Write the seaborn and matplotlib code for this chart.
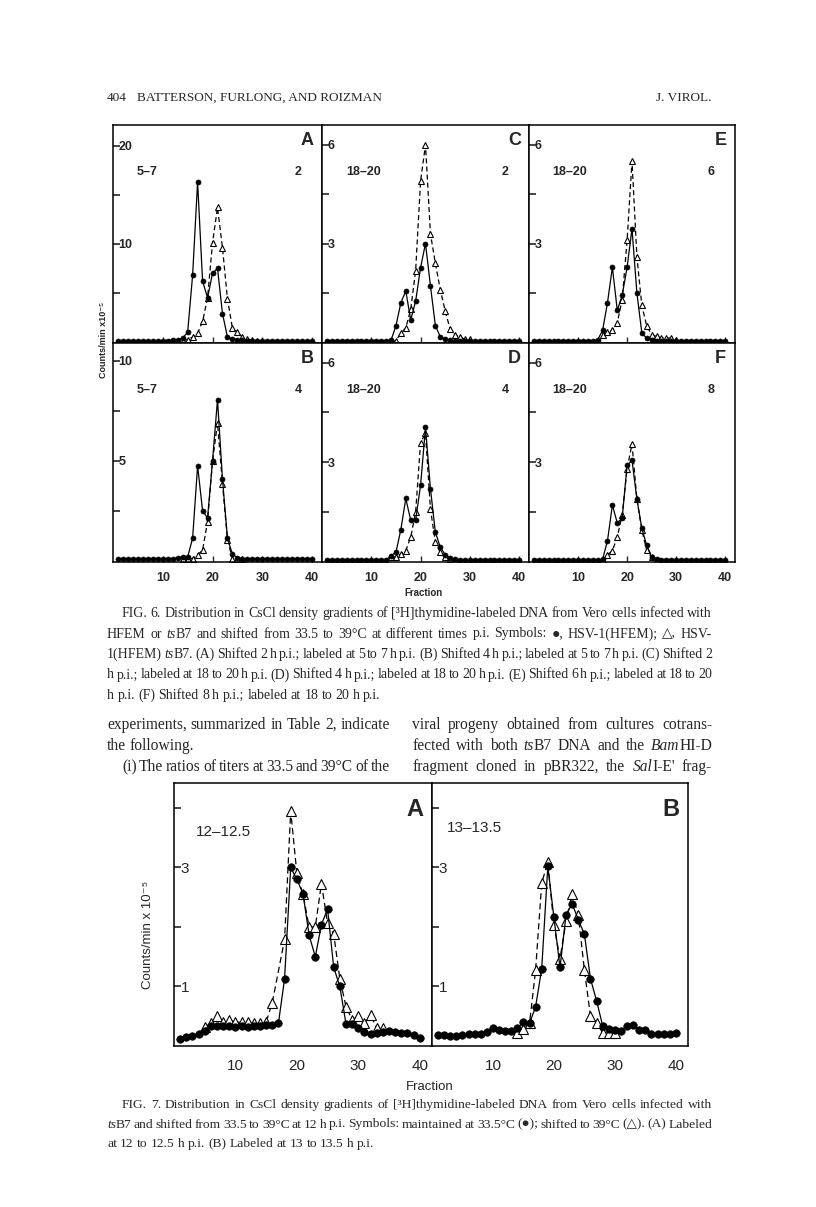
import matplotlib
matplotlib.use("Agg")
import matplotlib.pyplot as plt
import seaborn as sns

sns.set_style("white")
SANS = ['Liberation Sans', 'DejaVu Sans']
SERIF = ['Liberation Serif', 'DejaVu Serif', 'DejaVu Sans']
plt.rcParams['font.family'] = SANS

# ---------------- data: FIG. 6 (counts/min x 10^-5 per fraction) ----------------
fractions = list(range(1, 41))

a_hfem = [0.1, 0.1, 0.1, 0.1, 0.1, 0.1, 0.1, 0.1, 0.1, 0.15, 0.15, 0.2, 0.25, 0.4, 1.0,
          6.8, 16.3, 6.2, 4.5, 7.0, 7.5, 2.9, 0.5, 0.3, 0.25, 0.2, 0.15, 0.15, 0.1, 0.1,
          0.1, 0.1, 0.1, 0.1, 0.1, 0.1, 0.1, 0.1, 0.1, 0.1]
a_ts_frac = list(range(14, 31))
a_ts = [0.15, 0.25, 0.5, 0.9, 2.1, 4.5, 10.1, 13.7, 9.6, 4.4, 1.4, 1.0, 0.5, 0.3, 0.2, 0.15, 0.1]

b_hfem = [0.1, 0.1, 0.1, 0.1, 0.1, 0.1, 0.1, 0.1, 0.1, 0.1, 0.1, 0.12, 0.15, 0.2, 0.2,
          1.14, 4.76, 2.52, 2.15, 5.0, 8.07, 4.1, 1.14, 0.34, 0.17, 0.12, 0.1, 0.1, 0.1, 0.1,
          0.1, 0.1, 0.1, 0.1, 0.1, 0.1, 0.1, 0.1, 0.1, 0.08]
b_ts_frac = list(range(14, 27))
b_ts = [0.08, 0.08, 0.12, 0.3, 0.54, 1.97, 5.0, 6.9, 3.87, 1.06, 0.12, 0.08, 0.08]

c_hfem = [0.05, 0.05, 0.05, 0.05, 0.05, 0.05, 0.05, 0.05, 0.05, 0.05, 0.05, 0.05, 0.05, 0.06, 0.5,
          1.2, 1.56, 0.68, 1.25, 2.27, 3.0, 1.72, 0.51, 0.17, 0.1, 0.06, 0.05, 0.05, 0.05, 0.05,
          0.05, 0.05, 0.05, 0.05, 0.05, 0.05, 0.05, 0.05, 0.05, 0.05]
c_ts_frac = list(range(14, 31))
c_ts = [0.03, 0.05, 0.28, 0.44, 1.0, 2.18, 4.9, 6.0, 3.3, 2.4, 1.6, 0.95, 0.4, 0.23, 0.15, 0.1, 0.1]

d_hfem = [0.05, 0.05, 0.05, 0.05, 0.05, 0.05, 0.05, 0.05, 0.05, 0.05, 0.05, 0.05, 0.04, 0.17, 0.27,
          0.96, 1.9, 1.24, 1.24, 2.3, 4.05, 2.2, 0.88, 0.43, 0.2, 0.1, 0.07, 0.05, 0.05, 0.05,
          0.05, 0.05, 0.05, 0.05, 0.05, 0.05, 0.05, 0.05, 0.05, 0.05]
d_ts_frac = list(range(14, 28))
d_ts = [0.12, 0.14, 0.22, 0.32, 0.73, 1.49, 3.59, 3.87, 1.59, 0.58, 0.27, 0.12, 0.07, 0.05]

e_hfem = [0.05, 0.05, 0.05, 0.05, 0.05, 0.05, 0.05, 0.05, 0.05, 0.05, 0.05, 0.05, 0.05, 0.08, 0.36,
          1.2, 2.28, 0.97, 1.43, 2.28, 3.45, 1.5, 0.29, 0.12, 0.08, 0.05, 0.05, 0.05, 0.05, 0.05,
          0.05, 0.05, 0.05, 0.05, 0.05, 0.05, 0.05, 0.05, 0.05, 0.05]
e_ts_frac = list(range(15, 31))
e_ts = [0.23, 0.3, 0.36, 0.6, 1.3, 3.1, 5.5, 2.6, 1.12, 0.5, 0.23, 0.18, 0.13, 0.13, 0.13, 0.08]

f_hfem = [0.04, 0.04, 0.04, 0.04, 0.04, 0.04, 0.04, 0.04, 0.04, 0.04, 0.04, 0.04, 0.04, 0.04, 0.06,
          0.62, 1.7, 1.16, 1.31, 2.9, 3.06, 1.88, 1.0, 0.48, 0.12, 0.06, 0.04, 0.04, 0.04, 0.04,
          0.04, 0.04, 0.04, 0.04, 0.04, 0.04, 0.04, 0.04, 0.04, 0.04]
f_ts_frac = list(range(15, 27))
f_ts = [0.04, 0.2, 0.32, 0.73, 1.41, 2.8, 3.55, 1.88, 0.95, 0.33, 0.12, 0.05]

# ---------------- data: FIG. 7 ----------------
g_33 = [0.12, 0.15, 0.17, 0.2, 0.26, 0.34, 0.33, 0.33, 0.33, 0.32, 0.33, 0.32, 0.33, 0.34, 0.35,
        0.35, 0.38, 1.13, 3.0, 2.8, 2.56, 1.86, 1.5, 2.04, 2.3, 1.32, 1.0, 0.37, 0.37, 0.3,
        0.24, 0.21, 0.22, 0.24, 0.26, 0.24, 0.22, 0.22, 0.18, 0.14]
g_39_frac = [5, 6, 7, 8, 9, 10, 11, 12, 13, 14, 15, 16, 18, 19, 20, 21, 22, 23, 24, 25, 26,
             27, 28, 29, 30, 31, 32, 33, 34]
g_39 = [0.32, 0.38, 0.5, 0.4, 0.44, 0.4, 0.4, 0.4, 0.38, 0.38, 0.4, 0.73, 1.79, 3.95, 2.9,
        2.55, 2.0, 2.0, 2.73, 2.06, 1.88, 1.13, 0.66, 0.44, 0.5, 0.38, 0.52, 0.3, 0.3]

h_33 = [0.18, 0.18, 0.17, 0.17, 0.18, 0.2, 0.21, 0.2, 0.24, 0.3, 0.27, 0.26, 0.25, 0.3, 0.41,
        0.38, 0.66, 1.3, 3.02, 2.16, 1.32, 2.21, 2.39, 2.12, 1.88, 1.13, 0.76, 0.34, 0.28, 0.27,
        0.26, 0.34, 0.35, 0.27, 0.27, 0.2, 0.2, 0.2, 0.2, 0.22]
h_39_frac = list(range(14, 31))
h_39 = [0.22, 0.28, 0.38, 1.28, 2.74, 3.09, 2.03, 1.47, 2.1, 2.56, 2.2, 1.28, 0.5, 0.39, 0.22, 0.22, 0.22]

W, H = 816, 1207
fig = plt.figure(figsize=(W / 100, H / 100), dpi=100)
fig.patch.set_facecolor('white')


def px_axes(x0, y0, x1, y1):
    return fig.add_axes([x0 / W, 1 - y1 / H, (x1 - x0) / W, (y1 - y0) / H])


def T(x, y, s, **kw):
    return fig.text(x / W, 1 - y / H, s, **kw)


def draw(ax, circ, tri_x, tri, ms_c, ms_t, lw, dash):
    sns.lineplot(x=tri_x, y=tri, ax=ax, color='black', linewidth=lw, linestyle=(0, dash),
                 marker='^', markersize=ms_t, markerfacecolor='white', markeredgecolor='black',
                 markeredgewidth=0.8)
    sns.lineplot(x=fractions, y=circ, ax=ax, color='black', linewidth=lw,
                 marker='o', markersize=ms_c, markeredgecolor='black', markeredgewidth=0.5)


def style(ax, ylim, yticks, ylabels, xlabels, fs, bold, spw, ypad, xpad, xlim=(0, 42)):
    ax.set_xlim(*xlim)
    ax.set_ylim(*ylim)
    for s in ax.spines.values():
        s.set_visible(True)
        s.set_linewidth(spw)
        s.set_color('black')
    ax.set_yticks(yticks)
    ax.set_yticklabels(ylabels)
    ax.set_xticks([10, 20, 30, 40])
    ax.set_xticklabels(['10', '20', '30', '40'] if xlabels else [])
    ax.tick_params(axis='y', direction='in', length=5, width=1.2, pad=ypad, left=True,
                   labelsize=fs)
    ax.tick_params(axis='x', direction='in', length=4 if bold else 0, width=1.0, pad=xpad,
                   bottom=True, labelsize=fs)
    for t in ax.get_yticklabels():
        t.set_horizontalalignment('left')
        t.set_fontweight('bold' if bold else 'normal')
    for t in ax.get_xticklabels():
        t.set_fontweight('bold' if bold else 'normal')
    ax.set_xlabel('')
    ax.set_ylabel('')
    ax.grid(False)


# ---------------- FIG. 6 ----------------
cols = [(113, 322), (322, 529), (529, 735)]
rows = [(125, 343), (343, 562)]
panels6 = [
    ('A', '5\u20137', '2', a_hfem, a_ts_frac, a_ts, (-0.1, 22.1), [5, 10, 15, 20], ['', '10', '', '20'], 0, 0),
    ('B', '5\u20137', '4', b_hfem, b_ts_frac, b_ts, (-0.05, 10.9), [2.5, 5, 7.5, 10], ['', '5', '', '10'], 0, 1),
    ('C', '18\u201320', '2', c_hfem, c_ts_frac, c_ts, (-0.02, 6.6), [1.5, 3, 4.5, 6], ['', '3', '', '6'], 1, 0),
    ('D', '18\u201320', '4', d_hfem, d_ts_frac, d_ts, (-0.02, 6.6), [1.5, 3, 4.5, 6], ['', '3', '', '6'], 1, 1),
    ('E', '18\u201320', '6', e_hfem, e_ts_frac, e_ts, (-0.02, 6.6), [1.5, 3, 4.5, 6], ['', '3', '', '6'], 2, 0),
    ('F', '18\u201320', '8', f_hfem, f_ts_frac, f_ts, (-0.02, 6.6), [1.5, 3, 4.5, 6], ['', '3', '', '6'], 2, 1),
]
for letter, lab, shift, circ, tx, ty, ylim, yt, yl, ci, ri in panels6:
    x0, x1 = cols[ci]
    y0, y1 = rows[ri]
    ax = px_axes(x0, y0, x1, y1)
    draw(ax, circ, tx, ty, ms_c=3.6, ms_t=4.8, lw=0.9, dash=(4, 2.5))
    style(ax, ylim, yt, yl, ri == 1, fs=9, bold=True, spw=1.1, ypad=-4, xpad=7)
    ax.text(0.93, 0.93, letter, transform=ax.transAxes, ha='center', va='center',
            fontsize=13, fontweight='bold')
    ax.text(0.115, 0.785, lab, transform=ax.transAxes, ha='left', va='center',
            fontsize=9, fontweight='bold')
    ax.text(0.885, 0.785, shift, transform=ax.transAxes, ha='center', va='center',
            fontsize=9, fontweight='bold')

T(103, 340, 'Counts/min x10\u207b\u2075', rotation=90, ha='center', va='center',
  fontsize=6.5, fontweight='bold', family=SANS)
T(423, 593, 'Fraction', ha='center', va='center', fontsize=7, fontweight='bold')

# ---------------- FIG. 7 ----------------
panels7 = [
    ('A', '12\u201312.5', g_33, g_39_frac, g_39, (174, 432), (0.085, 0.815)),
    ('B', '13\u201313.5', h_33, h_39_frac, h_39, (432, 688), (0.06, 0.83)),
]
for letter, lab, circ, tx, ty, (x0, x1), (lx, ly) in panels7:
    ax = px_axes(x0, 783, x1, 1046)
    draw(ax, circ, tx, ty, ms_c=5.4, ms_t=6.8, lw=0.9, dash=(5, 3))
    style(ax, (0, 4.42), [1, 2, 3, 4], ['1', '', '3', ''], True, fs=11, bold=False,
          spw=1.1, ypad=-5, xpad=9)
    ax.text(0.935, 0.9, letter, transform=ax.transAxes, ha='center', va='center',
            fontsize=17, fontweight='bold')
    ax.text(lx, ly, lab, transform=ax.transAxes, ha='left', va='center', fontsize=11)

T(148, 935, 'Counts/min x 10\u207b\u2075', rotation=90, ha='center', va='center',
  fontsize=9.5, family=SANS)
T(430, 1087, 'Fraction', ha='center', va='center', fontsize=9.5)

# ---------------- page text ----------------
renderer = fig.canvas.get_renderer()


def place_line(line, x0, x1, y, justify=True, fs=10.0):
    words = []
    for w in line.split(' '):
        segs = []
        for i, part in enumerate(w.split('*')):
            if part:
                segs.append((part, 'italic' if i % 2 else 'normal'))
        words.append(segs)
    objs, widths = [], []
    for segs in words:
        wo, ww = [], 0
        for part, st in segs:
            t = T(0, y, part, fontsize=fs, family=SERIF, style=st, va='baseline', ha='left')
            wdt = t.get_window_extent(renderer=renderer).width
            wo.append((t, wdt))
            ww += wdt
        objs.append(wo)
        widths.append(ww)
    if justify and len(words) > 1:
        gap = (x1 - x0 - sum(widths)) / (len(words) - 1)
    else:
        gap = fs * 1.389 * 0.24
    x = x0
    for wo, ww in zip(objs, widths):
        xx = x
        for t, wdt in wo:
            t.set_x(xx / W)
            xx += wdt
        x += ww + gap


T(107, 101, '404', fontsize=9.5, family=SERIF, va='baseline')
T(137, 101, 'BATTERSON, FURLONG, AND ROIZMAN', fontsize=9.5, family=SERIF, va='baseline')
T(712, 101, 'J. VIROL.', fontsize=9.5, family=SERIF, va='baseline', ha='right')

cap6 = [
    ("FIG. 6. Distribution in CsCl density gradients of [\u00b3H]thymidine-labeled DNA from Vero cells infected with", 122, True),
    ("HFEM or *ts*B7 and shifted from 33.5 to 39\u00b0C at different times p.i. Symbols: \u25cf, HSV-1(HFEM); \u25b3, HSV-", 107, True),
    ("1(HFEM) *ts*B7. (A) Shifted 2 h p.i.; labeled at 5 to 7 h p.i. (B) Shifted 4 h p.i.; labeled at 5 to 7 h p.i. (C) Shifted 2", 107, True),
    ("h p.i.; labeled at 18 to 20 h p.i. (D) Shifted 4 h p.i.; labeled at 18 to 20 h p.i. (E) Shifted 6 h p.i.; labeled at 18 to 20", 107, True),
    ("h p.i. (F) Shifted 8 h p.i.; labeled at 18 to 20 h p.i.", 107, False),
]
for i, (line, x0, j) in enumerate(cap6):
    place_line(line, x0, 712, 617 + 20.5 * i, j)

left_col = [
    ("experiments, summarized in Table 2, indicate", 107, True),
    ("the following.", 107, False),
    ("(i) The ratios of titers at 33.5 and 39\u00b0C of the", 122, True),
]
right_col = [
    ("viral progeny obtained from cultures cotrans-", 412, True),
    ("fected with both *ts*B7 DNA and the *Bam*HI-D", 412, True),
    ("fragment cloned in pBR322, the *Sal*I-E' frag-", 412, True),
]
for i, (line, x0, j) in enumerate(left_col):
    place_line(line, x0, 390, 729 + 21 * i, j, fs=11.2)
for i, (line, x0, j) in enumerate(right_col):
    place_line(line, x0, 712, 729 + 21 * i, j, fs=11.2)

cap7 = [
    ("FIG. 7. Distribution in CsCl density gradients of [\u00b3H]thymidine-labeled DNA from Vero cells infected with", 122, True),
    ("*ts*B7 and shifted from 33.5 to 39\u00b0C at 12 h p.i. Symbols: maintained at 33.5\u00b0C (\u25cf); shifted to 39\u00b0C (\u25b3). (A) Labeled", 107, True),
    ("at 12 to 12.5 h p.i. (B) Labeled at 13 to 13.5 h p.i.", 107, False),
]
for i, (line, x0, j) in enumerate(cap7):
    place_line(line, x0, 712, 1108 + 19.5 * i, j, fs=9.7)

fig.savefig('out.png', dpi=100, facecolor='white')
